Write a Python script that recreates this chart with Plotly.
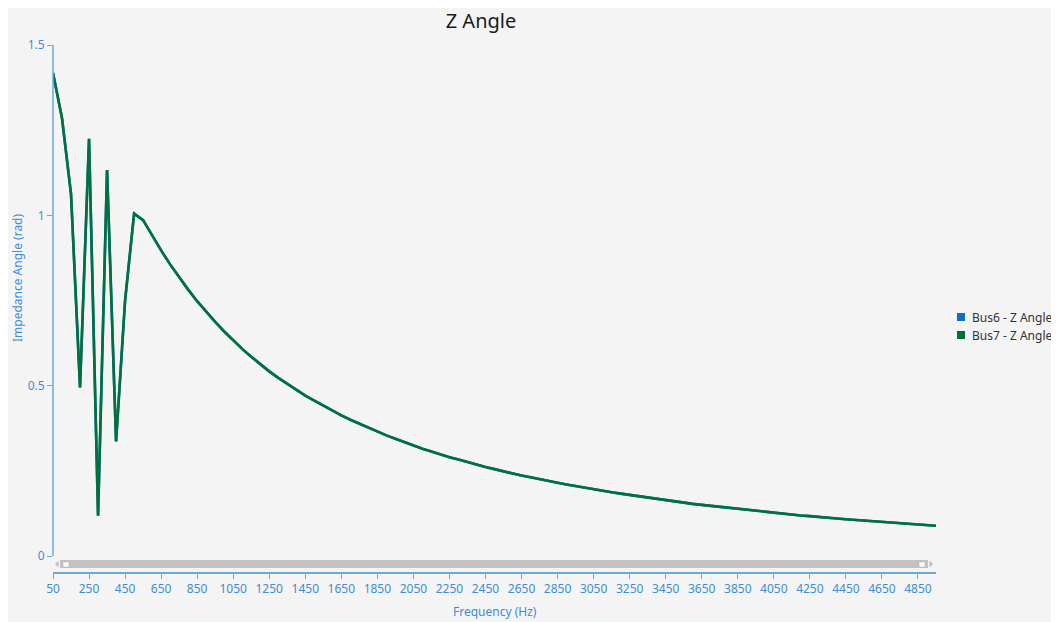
import plotly.graph_objects as go

# frequency grid (Hz)
freq = [
    50, 100, 150, 200, 250, 300, 350, 400, 450, 500,
    550, 600, 650, 700, 750, 800, 850, 900, 950, 1000,
    1050, 1100, 1150, 1200, 1250, 1300, 1350, 1400, 1450, 1500,
    1550, 1600, 1650, 1700, 1750, 1800, 1850, 1900, 1950, 2000,
    2050, 2100, 2150, 2200, 2250, 2300, 2350, 2400, 2450, 2500,
    2550, 2600, 2650, 2700, 2750, 2800, 2850, 2900, 2950, 3000,
    3050, 3100, 3150, 3200, 3250, 3300, 3350, 3400, 3450, 3500,
    3550, 3600, 3650, 3700, 3750, 3800, 3850, 3900, 3950, 4000,
    4050, 4100, 4150, 4200, 4250, 4300, 4350, 4400, 4450, 4500,
    4550, 4600, 4650, 4700, 4750, 4800, 4850, 4900, 4950,
]

# impedance angle (rad)
bus7_angle = [
    1.418, 1.285, 1.062, 0.495, 1.225, 0.118, 1.133, 0.336, 0.750, 1.005,
    0.986, 0.940, 0.897, 0.856, 0.818, 0.782, 0.748, 0.717, 0.687, 0.659,
    0.633, 0.608, 0.585, 0.563, 0.542, 0.523, 0.505, 0.488, 0.471, 0.456,
    0.441, 0.427, 0.413, 0.400, 0.388, 0.376, 0.365, 0.354, 0.344, 0.334,
    0.324, 0.315, 0.307, 0.298, 0.290, 0.283, 0.275, 0.268, 0.261, 0.255,
    0.248, 0.242, 0.236, 0.231, 0.225, 0.220, 0.215, 0.210, 0.205, 0.200,
    0.196, 0.191, 0.187, 0.183, 0.179, 0.175, 0.171, 0.167, 0.164, 0.160,
    0.157, 0.153, 0.150, 0.147, 0.144, 0.141, 0.138, 0.135, 0.132, 0.129,
    0.127, 0.124, 0.121, 0.119, 0.117, 0.114, 0.112, 0.110, 0.108, 0.106,
    0.104, 0.102, 0.100, 0.098, 0.096, 0.094, 0.093, 0.091, 0.089,
]
# Bus6 sits exactly under Bus7 in the chart
bus6_angle = list(bus7_angle)

series_names = ["Bus6 - Z Angle", "Bus7 - Z Angle"]
series_colors = ["#0B6FC7", "#00703C"]

axis_blue = "#3C8DD6"
line_blue = "#6AA8DE"

# the page body adds an 8px margin, so the figure starts at (8, 8)
OX, OY = 8, 8
W, H = 1044, 614
L, T, PW, PH = 45, 37, 883, 528
R, B = W - L - PW, H - T - PH


# helpers: page pixel -> paper fraction
def px(x):
    return (x - OX - L) / PW


def py(y):
    return (OY + T + PH - y) / PH


fig = go.Figure()
for name, vals, col in zip(series_names, [bus6_angle, bus7_angle], series_colors):
    fig.add_trace(go.Scatter(x=freq, y=vals, mode="lines", name=name,
                             line=dict(color=col, width=2.6)))

shapes = [
    # y axis line (stops at 0)
    dict(type="line", xref="paper", yref="paper", x0=0, x1=0, y0=py(556), y1=1,
         line=dict(color=line_blue, width=1.5)),
    # scrollbar
    dict(type="rect", xref="paper", yref="paper", x0=px(60), x1=px(928), y0=py(568), y1=py(560),
         fillcolor="#C3C3C3", line_width=0),
    dict(type="rect", xref="paper", yref="paper", x0=px(63), x1=px(69), y0=py(567), y1=py(562),
         fillcolor="white", line=dict(color="#A8A8A8", width=0.5)),
    dict(type="rect", xref="paper", yref="paper", x0=px(919), x1=px(925), y0=py(567), y1=py(562),
         fillcolor="white", line=dict(color="#A8A8A8", width=0.5)),
    dict(type="path", xref="paper", yref="paper",
         path=f"M {px(58.5)} {py(560.5)} L {px(58.5)} {py(567.5)} L {px(55)} {py(564)} Z",
         fillcolor="#BDBDBD", line_width=0),
    dict(type="path", xref="paper", yref="paper",
         path=f"M {px(929.5)} {py(560.5)} L {px(929.5)} {py(567.5)} L {px(933)} {py(564)} Z",
         fillcolor="#BDBDBD", line_width=0),
]

annotations = [
    dict(text="Impedance Angle (rad)", xref="paper", yref="paper", x=px(17), y=py(278),
         xanchor="center", yanchor="middle",
         textangle=-90, showarrow=False, font=dict(size=12, color=axis_blue)),
    dict(text="Frequency (Hz)", xref="paper", yref="paper", x=px(495), y=py(611),
         xanchor="center", yanchor="middle",
         showarrow=False, font=dict(size=12, color=axis_blue)),
]

# legend: square swatches with labels at the right of the plot
legend_rows = [317, 335]
for name, col, row in zip(series_names, series_colors, legend_rows):
    shapes.append(dict(type="rect", xref="paper", yref="paper",
                       x0=px(957), x1=px(965), y0=py(row + 4), y1=py(row - 4),
                       fillcolor=col, line_width=0))
    annotations.append(dict(text=name, xref="paper", yref="paper", x=px(970), y=py(row),
                            xanchor="left", yanchor="middle", showarrow=False,
                            font=dict(size=12, color="#333333")))

fig.update_layout(
    width=W, height=H,
    margin=dict(l=L, r=R, t=T, b=B),
    paper_bgcolor="#F4F4F4",
    plot_bgcolor="#F4F4F4",
    font=dict(family="Noto Sans", size=12, color="#333333"),
    title=dict(text="Z Angle", x=(481 - OX) / W, xanchor="center", y=1 - (21 - OY) / H, yanchor="middle",
               font=dict(size=20, color="#1A1A1A")),
    xaxis=dict(range=[50, 4950], tick0=50, dtick=200, anchor="free", position=0,
               showgrid=False, zeroline=False, showline=True, linecolor=line_blue, linewidth=1.5,
               ticks="outside", ticklen=5, tickcolor=line_blue,
               tickfont=dict(size=12, color=axis_blue)),
    yaxis=dict(range=[0, 1.5], domain=[py(556), 1], tickvals=[0, 0.5, 1, 1.5],
               ticktext=["0", "0.5", "1", "1.5"],
               showgrid=False, zeroline=False, showline=False,
               ticks="outside", ticklen=5, tickcolor=line_blue,
               tickfont=dict(size=12, color=axis_blue)),
    shapes=shapes,
    annotations=annotations,
    showlegend=False,
)

fig.write_html("out.html")
